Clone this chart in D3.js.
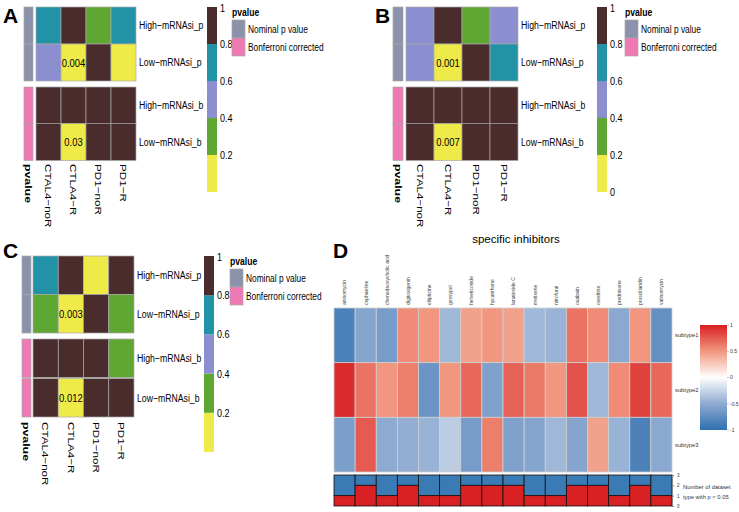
<!DOCTYPE html>
<html>
<head>
<meta charset="utf-8">
<script src="https://cdn.jsdelivr.net/npm/d3@7"></script>
<style>
  body { margin: 0; background: #fff; }
  svg { font-family: "Liberation Sans", Arial, sans-serif; }
</style>
</head>
<body>
<div id="chart"></div>
<script>
// ---- panels A-C : p value heatmaps ----
const pCols = ["CTAL4−noR", "CTLA4−R", "PD1−noR", "PD1−R"];
const pRows = ["High−mRNAsi_p", "Low−mRNAsi_p", "High−mRNAsi_b", "Low−mRNAsi_b"];
const pGroups = ["Nominal p value", "Bonferroni corrected"];
const pGroupColors = ["#8a93ab", "#ee79b3"];
const pBreaks = [0.2, 0.4, 0.6, 0.8];
const pColors = ["#eeea48", "#5fa733", "#8b8fcf", "#2293a6", "#4b2c2c"];
const panelAValues = [[0.7, 0.9, 0.3, 0.7], [0.5, 0.004, 0.9, 0.1], [1, 1, 1, 1], [1, 0.03, 1, 1]];
const panelBValues = [[0.5, 0.9, 0.3, 0.5], [0.5, 0.001, 0.9, 0.7], [1, 1, 1, 1], [1, 0.007, 1, 1]];
const panelCValues = [[0.7, 0.9, 0.1, 0.9], [0.3, 0.003, 0.9, 0.3], [1, 1, 1, 0.3], [1, 0.012, 1, 1]];
const ticksAC = [0.2, 0.4, 0.6, 0.8, 1];
const ticksB = [0, 0.2, 0.4, 0.6, 0.8, 1];

// ---- panel D : correlation heatmap ----
const drugs = ["anisomycin", "cephaeline", "chenodeoxycholic acid", "digitoxigenin", "ellipticine",
  "gossypol", "helveticoside", "hycanthone", "lanatoside C", "metixene", "nitrofural", "ouabain",
  "oxedrine", "prednisone", "proscillaridin", "valinomycin"];
const subtypes = ["subtype1", "subtype2", "subtype3"];
const subtype1Values = [-0.85, -0.55, -0.62, 0.55, 0.5, -0.42, 0.45, 0.5, 0.45, -0.42, -0.45, 0.65, 0.55, -0.52, 0.5, -0.72];
const subtype2Values = [0.95, 0.65, 0.5, 0.6, -0.68, 0.5, 0.7, -0.58, 0.72, 0.62, 0.5, 0.78, -0.42, 0.55, 0.85, 0.7];
const subtype3Values = [-0.6, 0.75, -0.5, -0.48, -0.45, -0.3, -0.62, 0.6, -0.58, -0.55, -0.42, -0.55, 0.45, -0.45, -0.85, -0.52];
const sigCounts = [1, 2, 1, 2, 1, 1, 2, 2, 2, 1, 1, 2, 2, 1, 2, 1];
const countTicks = [0, 1, 2, 3];
const corrTicks = [-1, -0.5, 0, 0.5, 1];

const W = 739, H = 512;
const svg = d3.select("#chart").append("svg").attr("width", W).attr("height", H);

// the figure is stretched vertically: squeeze horizontal text, stretch vertical text
function narrowText(parent, x, y, str, opt = {}) {
  const sx = opt.sx || 0.82, sy = opt.sy || 1;
  const t = parent.append("text")
    .attr("transform", `translate(${x},${y}) rotate(${opt.rot || 0}) scale(${sx},${sy})`)
    .attr("dy", opt.dy || "0.36em")
    .attr("text-anchor", opt.anchor || "start")
    .style("font-size", (opt.size || 10.5) + "px")
    .text(str);
  if (opt.bold) t.style("font-weight", "bold");
  return t;
}

function drawPPanel(L, values, ticks) {
  const g = svg.append("g");
  const x = d3.scaleBand().domain(pCols).range([L.cx0, L.cx1]);
  const yTop = d3.scaleBand().domain(pRows.slice(0, 2)).range([L.y0, L.y1]);
  const yBot = d3.scaleBand().domain(pRows.slice(2)).range([L.y2, L.y3]);
  const y = r => pRows.indexOf(r) < 2 ? yTop(r) : yBot(r);
  const bh = yTop.bandwidth();
  const color = d3.scaleThreshold().domain(pBreaks).range(pColors);

  // annotation column
  pRows.forEach((r, i) => {
    g.append("rect").attr("x", L.ax0).attr("width", L.ax1 - L.ax0)
      .attr("y", y(r)).attr("height", bh)
      .attr("fill", pGroupColors[i < 2 ? 0 : 1])
      .attr("stroke", "#a8a8a8").attr("stroke-width", 0.7);
  });

  pRows.forEach((r, i) => {
    pCols.forEach((c, j) => {
      const v = values[i][j];
      g.append("rect").attr("x", x(c)).attr("y", y(r))
        .attr("width", x.bandwidth()).attr("height", bh)
        .attr("fill", color(v)).attr("stroke", "#a8a8a8").attr("stroke-width", 0.7);
      if (v < 0.05) {
        narrowText(g, x(c) + x.bandwidth() / 2, y(r) + bh / 2, v, { anchor: "middle", size: 11.5 });
      }
    });
    narrowText(g, L.cx1 + 3, y(r) + bh / 2, r, { size: 11, sx: 0.79 });
  });

  // column labels (rotated, so stretched along the text and thinned across it)
  const colLab = [{ t: "pvalue", x: (L.ax0 + L.ax1) / 2, bold: true }]
    .concat(pCols.map(c => ({ t: c, x: x(c) + x.bandwidth() / 2 })));
  colLab.forEach(d => {
    narrowText(g, d.x, L.y3 + 4, d.t, { rot: 90, bold: d.bold, size: 11, sx: d.bold ? 1.12 : 1.06, sy: 0.85 });
  });

  // colour key
  const cy = d3.scaleLinear().domain([0, 1]).range([L.kb, L.kt]);
  const edges = [0].concat(pBreaks, [1]);
  pColors.forEach((col, k) => {
    g.append("rect").attr("x", L.kx).attr("width", 10)
      .attr("y", cy(edges[k + 1])).attr("height", cy(edges[k]) - cy(edges[k + 1]))
      .attr("fill", col);
  });
  ticks.forEach(t => {
    narrowText(g, L.kx + 13, cy(t) + (t === 1 ? 1 : 0), t, { size: 11 });
  });

  // annotation legend
  narrowText(g, L.lx, L.ly, "pvalue", { bold: true, size: 10.5, dy: "0" });
  pGroups.forEach((name, k) => {
    g.append("rect").attr("x", L.lx).attr("y", L.ly + 4 + k * 18).attr("width", 13).attr("height", 18)
      .attr("fill", pGroupColors[k]).attr("stroke", "#a8a8a8").attr("stroke-width", 0.7);
    narrowText(g, L.lx + 16, L.ly + 13 + k * 18, name, { size: 11, sx: 0.76 });
  });
}

drawPPanel({ ax0: 24, ax1: 33, cx0: 36, cx1: 136, y0: 7, y1: 81, y2: 87, y3: 160,
  kx: 207, kt: 7, kb: 192, lx: 232, ly: 16 }, panelAValues, ticksAC);
drawPPanel({ ax0: 393, ax1: 403, cx0: 406, cx1: 518, y0: 7, y1: 81, y2: 87, y3: 160,
  kx: 597, kt: 7, kb: 192, lx: 625, ly: 16 }, panelBValues, ticksB);
drawPPanel({ ax0: 22, ax1: 31, cx0: 33, cx1: 134, y0: 256, y1: 333, y2: 339, y3: 418,
  kx: 204, kt: 256, kb: 452, lx: 230, ly: 265 }, panelCValues, ticksAC);

// panel letters
[["A", 3, 23], ["B", 375, 23], ["C", 3, 258], ["D", 333, 258]].forEach(d => {
  svg.append("text").attr("x", d[1]).attr("y", d[2])
    .style("font-size", "21px").style("font-weight", "bold").text(d[0]);
});

// ---- panel D ----
const gD = svg.append("g");
gD.append("text").attr("x", 516).attr("y", 243).attr("text-anchor", "middle")
  .style("font-size", "11.5px").text("specific inhibitors");

const xD = d3.scaleBand().domain(drugs).range([334, 672]);
const yD = d3.scaleBand().domain(subtypes).range([308, 472]);
const corrColor = d3.scaleLinear().domain([-1, -0.5, 0, 0.5, 1])
  .range(["#2f6fb0", "#8eaad1", "#ffffff", "#f1977f", "#d91e22"]);
const subtypeValues = [subtype1Values, subtype2Values, subtype3Values];

subtypes.forEach((s, i) => {
  drugs.forEach((d, j) => {
    gD.append("rect").attr("x", xD(d)).attr("y", yD(s))
      .attr("width", xD.bandwidth()).attr("height", yD.bandwidth())
      .attr("fill", corrColor(subtypeValues[i][j]))
      .attr("stroke", "#d0d0d0").attr("stroke-width", 0.8);
  });
  gD.append("text").attr("x", 675).attr("y", yD(s) + yD.bandwidth() / 2).attr("dy", "0.36em")
    .style("font-size", "5.8px").style("fill", "#333").text(s);
});

drugs.forEach(d => {
  gD.append("text").attr("transform", `translate(${xD(d) + xD.bandwidth() / 2},305) rotate(-90)`)
    .attr("dy", "0.36em").style("font-size", "5px").style("fill", "#444").text(d);
});

// significance count bars
const yC = d3.scaleLinear().domain([0, 3]).range([506, 475]);
drugs.forEach((d, j) => {
  gD.append("rect").attr("x", xD(d)).attr("width", xD.bandwidth())
    .attr("y", yC(3)).attr("height", yC(sigCounts[j]) - yC(3))
    .attr("fill", "#3a7ab5").attr("stroke", "#111").attr("stroke-width", 0.8);
  gD.append("rect").attr("x", xD(d)).attr("width", xD.bandwidth())
    .attr("y", yC(sigCounts[j])).attr("height", yC(0) - yC(sigCounts[j]))
    .attr("fill", "#d92124").attr("stroke", "#111").attr("stroke-width", 0.8);
});
const axC = gD.append("g").attr("transform", "translate(672,0)")
  .call(d3.axisRight(yC).tickValues(countTicks).tickSize(2).tickFormat(d3.format("d")));
axC.select(".domain").attr("stroke", "#888");
axC.selectAll("line").attr("stroke", "#888");
axC.selectAll("text").style("font-size", "4.5px").attr("fill", "#333");
gD.append("text").attr("x", 683).attr("y", 489).style("font-size", "5.8px").style("fill", "#333")
  .text("Number of dataset");
gD.append("text").attr("x", 683).attr("y", 499).style("font-size", "5.8px").style("fill", "#333")
  .text("type with p < 0.05");

// correlation colour key
const gradId = "corrGrad";
const grad = svg.append("defs").append("linearGradient").attr("id", gradId)
  .attr("x1", 0).attr("y1", 1).attr("x2", 0).attr("y2", 0);
d3.range(0, 1.001, 0.05).forEach(t => {
  grad.append("stop").attr("offset", t).attr("stop-color", corrColor(-1 + 2 * t));
});
const yK = d3.scaleLinear().domain([-1, 1]).range([430, 325]);
gD.append("rect").attr("x", 700).attr("y", yK(1)).attr("width", 27).attr("height", yK(-1) - yK(1))
  .attr("fill", `url(#${gradId})`);
corrTicks.forEach(t => {
  gD.append("line").attr("x1", 727).attr("x2", 729).attr("y1", yK(t)).attr("y2", yK(t))
    .attr("stroke", "#888").attr("stroke-width", 0.5);
  gD.append("text").attr("x", 730).attr("y", yK(t)).attr("dy", "0.36em")
    .style("font-size", "5px").style("fill", "#333").text(t);
});
</script>
</body>
</html>
